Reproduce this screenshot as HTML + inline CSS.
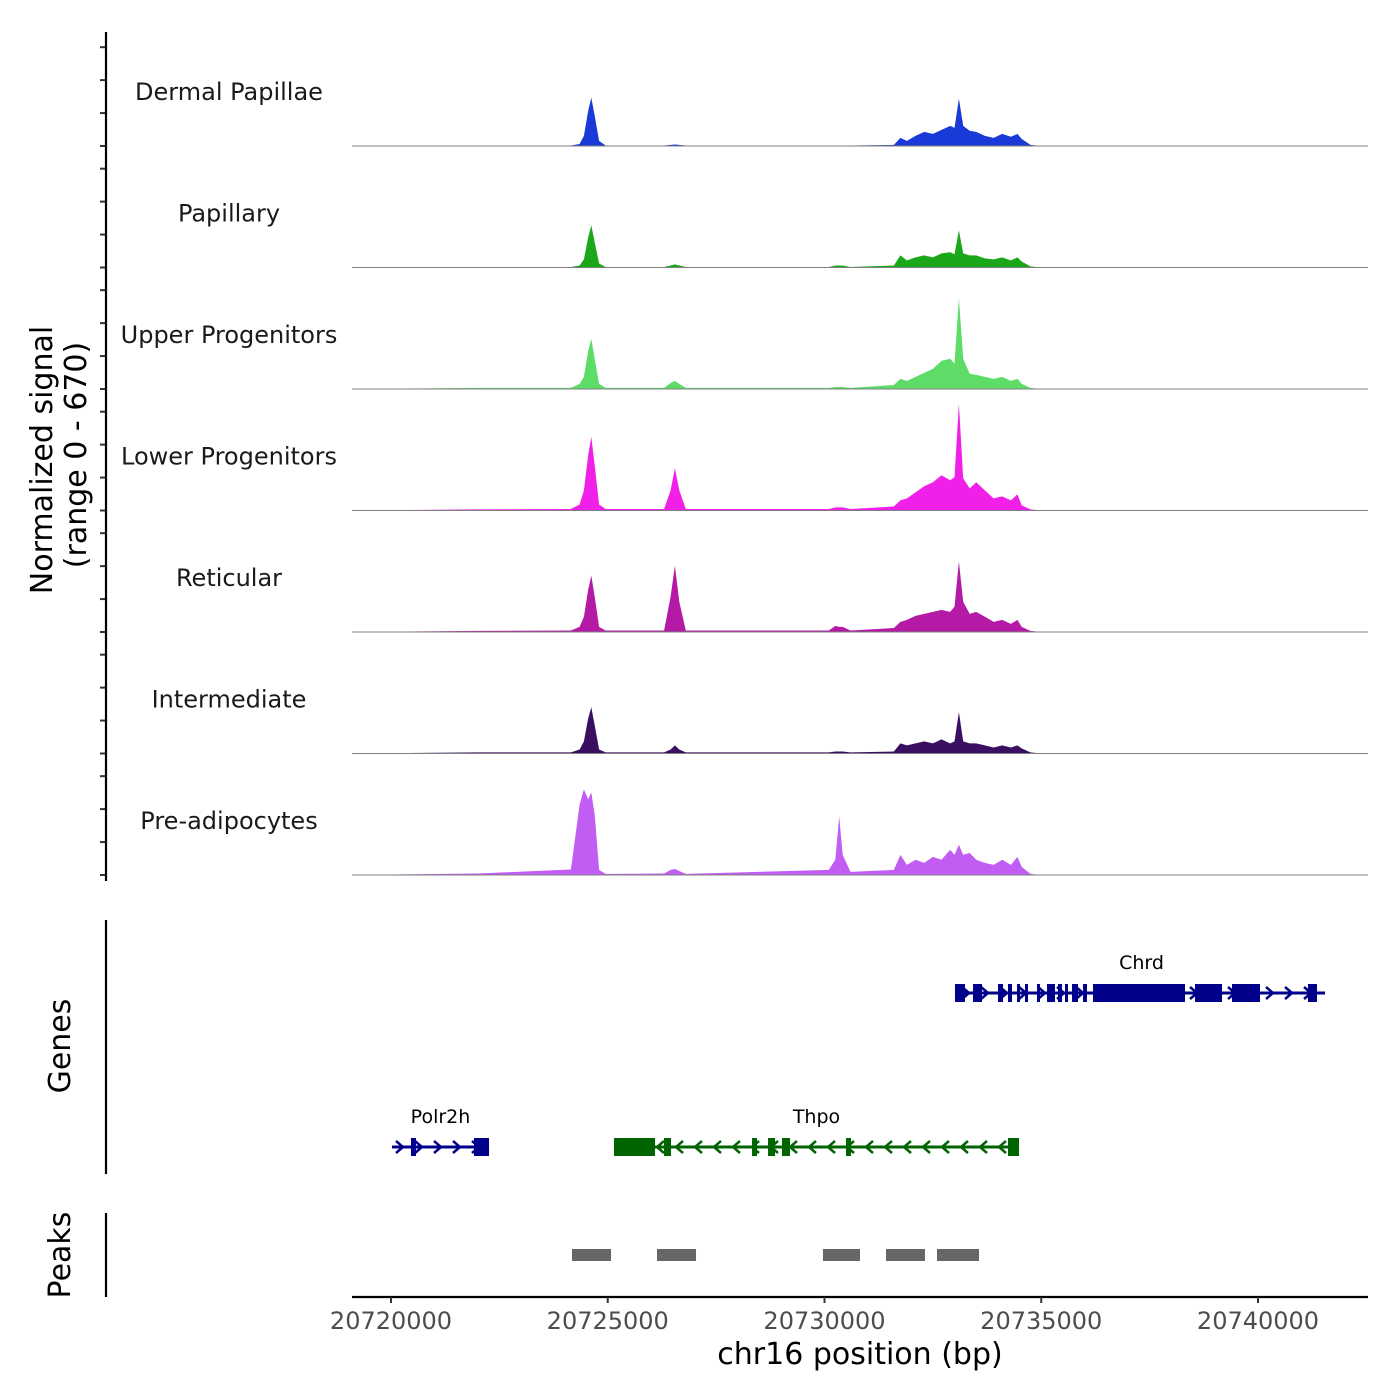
<!DOCTYPE html>
<html><head><meta charset="utf-8"><style>
html,body{margin:0;padding:0;background:#fff;}
svg{display:block;font-family:"DejaVu Sans","Liberation Sans",sans-serif;}
</style></head><body>
<svg id="chart" width="1400" height="1400" viewBox="0 0 1400 1400" xmlns="http://www.w3.org/2000/svg">
<rect width="1400" height="1400" fill="#fff"/>
<g id="tracks"></g>
<g id="genes"></g>
<g id="peaks"></g>
<g id="axes"></g>
<text transform="translate(52,460) rotate(-90)" text-anchor="middle" font-size="30" fill="#000">Normalized signal</text>
<text transform="translate(86,455) rotate(-90)" text-anchor="middle" font-size="30" fill="#000">(range 0 - 670)</text>
<text transform="translate(70,1046) rotate(-90)" text-anchor="middle" font-size="30" fill="#000">Genes</text>
<text transform="translate(70,1255) rotate(-90)" text-anchor="middle" font-size="30" fill="#000">Peaks</text>
<text x="860" y="1364" text-anchor="middle" font-size="30" fill="#000">chr16 position (bp)</text>
</svg>
<script>
const positions = [20719100,20722000,20724150,20724350,20724450,20724550,20724620,20724700,20724800,20724950,20726300,20726450,20726550,20726650,20726800,20730100,20730250,20730340,20730420,20730600,20731600,20731750,20731900,20732100,20732300,20732500,20732700,20732900,20733000,20733100,20733200,20733350,20733500,20733700,20733900,20734100,20734300,20734450,20734550,20734750,20735000,20742500];
const trackNames = ["Dermal Papillae","Papillary","Upper Progenitors","Lower Progenitors","Reticular","Intermediate","Pre-adipocytes"];
const trackColors = ["#1a3ad8","#1aa81a","#5ddc68","#f020e8","#b41aa6","#3a0f62","#c15df2"];
const dermalPapillae = [0,3,3,11,55,193,264,165,28,3,3,6,8,6,3,3,3,3,3,3,6,44,28,55,77,66,88,110,99,259,110,83,77,55,44,66,50,66,39,6,0,0];
const papillary = [0,3,3,11,44,165,231,138,22,3,3,11,17,11,3,3,11,11,11,3,11,66,39,55,66,55,77,83,72,204,77,66,66,50,44,55,39,55,33,6,0,0];
const upperProgenitors = [0,6,6,28,66,209,275,165,28,6,6,33,44,28,6,6,11,11,11,6,22,55,44,66,88,110,154,165,138,495,165,83,77,66,55,66,44,55,28,6,0,0];
const lowerProgenitors = [0,6,8,33,110,303,402,248,33,8,8,110,231,110,8,8,17,17,17,8,22,55,66,99,132,154,193,165,182,583,176,121,154,110,66,77,55,88,28,6,0,0];
const reticular = [0,6,8,28,83,231,308,193,28,8,8,193,363,165,8,8,33,28,28,8,22,55,66,88,99,110,121,110,138,385,165,99,110,83,55,66,44,66,28,6,0,0];
const intermediate = [0,6,6,22,66,193,253,154,22,6,6,22,44,22,6,6,11,11,11,6,11,55,44,55,66,55,77,55,66,226,66,55,55,44,33,44,33,44,28,6,0,0];
const preAdipocytes = [0,8,30,385,468,413,451,330,28,6,8,28,33,22,6,28,83,319,110,17,28,110,55,83,66,99,83,138,110,165,110,121,83,66,55,83,55,99,44,6,0,0];
const trackValues = [dermalPapillae,papillary,upperProgenitors,lowerProgenitors,reticular,intermediate,preAdipocytes];
const yTicks = [0,180,360,540];
const xTicks = [20720000,20725000,20730000,20735000,20740000];
const chrdExons = [[20733010,20733241],[20733426,20733633],[20734002,20734118],[20734233,20734325],[20734441,20734510],[20734625,20734694],[20734902,20734971],[20735133,20735317],[20735386,20735479],[20735548,20735617],[20735710,20735848],[20735963,20736055],[20736194,20738316],[20738547,20739170],[20739400,20740046],[20741153,20741361]];
const polr2hExons = [[20720461,20720577],[20721915,20722261]];
const thpoExons = [[20725144,20726090],[20726298,20726459],[20728328,20728443],[20728697,20728858],[20729019,20729204],[20730496,20730611],[20734233,20734487]];
const genes = [
 {name:"Chrd", start:20733080, end:20741546, strand:1, row:0, color:"#00008b", exons:chrdExons},
 {name:"Polr2h", start:20720023, end:20722261, strand:1, row:1, color:"#00008b", exons:polr2hExons},
 {name:"Thpo", start:20725144, end:20734487, strand:-1, row:1, color:"#006400", exons:thpoExons}
];
const peakStarts = [20724175,20726136,20729965,20731419,20732595];
const peakEnds = [20725075,20727036,20730819,20732318,20733564];

const NS="http://www.w3.org/2000/svg";
const X0=352, X1=1368;
function xs(bp){return 391+(bp-20720000)*0.04335;}
function mk(tag,attrs,parent){const e=document.createElementNS(NS,tag);for(const k in attrs)e.setAttribute(k,attrs[k]);parent.appendChild(e);return e;}
const baseFirst=146, trackStep=121.5, unitPx=0.183;
function ys(v,b){return b - v*unitPx;}

const tg=document.getElementById('tracks');
const ax=document.getElementById('axes');
trackValues.forEach((vals,i)=>{
  const b=baseFirst+i*trackStep;
  let d=`M${xs(positions[0])},${b}`;
  vals.forEach((v,j)=>{d+=` L${xs(positions[j]).toFixed(1)},${ys(v,b).toFixed(1)}`;});
  d+=` L${xs(positions[positions.length-1]).toFixed(1)},${b} Z`;
  const p=mk('path',{d:d,fill:trackColors[i]},tg);
  
  
  const bl=mk('line',{x1:X0,x2:X1,y1:b,y2:b,stroke:'#7f7f7f','stroke-width':1},tg);
  
  
  const t=mk('text',{x:229,y:b-46,'text-anchor':'middle','font-size':24,fill:'#1a1a1a'},tg);
  t.textContent=trackNames[i];
  
  
  yTicks.forEach(tv=>{
    const ty=ys(tv,b);
    const tk=mk('line',{x1:100,x2:106,y1:ty,y2:ty,stroke:'#333','stroke-width':2},ax);
    
    
  });
});
[[32,881],[920,1174],[1213,1297]].forEach(r=>{
  const l=mk('line',{x1:106,x2:106,y1:r[0],y2:r[1],stroke:'#000','stroke-width':2.2},ax);
  
  
});
const xl=mk('line',{x1:X0,x2:X1,y1:1297,y2:1297,stroke:'#000','stroke-width':2.2},ax);


xTicks.forEach(v=>{
  const x=xs(v);
  const tk=mk('line',{x1:x,x2:x,y1:1297,y2:1303,stroke:'#333','stroke-width':2},ax);
  
  
  const tl=mk('text',{x:x,y:1329,'text-anchor':'middle','font-size':24,fill:'#4d4d4d'},ax);
  tl.textContent=String(v);
  
  
});

const gg=document.getElementById('genes');
const rowY=[993,1147];
genes.forEach(g=>{
  const y=rowY[g.row];
  const grp=mk('g',{},gg);
  
  
  const x1=xs(g.start), x2=xs(g.end);
  mk('line',{x1:x1,x2:x2,y1:y,y2:y,stroke:g.color,'stroke-width':3},grp);
  for(let x=x1+8;x<x2;x+=19){
    const s=g.strand;
    mk('polyline',{points:`${x-4*s},${y-6} ${x+3*s},${y} ${x-4*s},${y+6}`,fill:'none',stroke:g.color,'stroke-width':2.5},grp);
  }
  g.exons.forEach(e=>{
    const a=xs(e[0]), bb=xs(e[1]);
    mk('rect',{x:a,y:y-9,width:Math.max(bb-a,3),height:18,fill:g.color},grp);
  });
  const lab=mk('text',{x:(x1+x2)/2,y:y-24,'text-anchor':'middle','font-size':19,fill:'#000'},grp);
  lab.textContent=g.name;
  
  
});

const pg=document.getElementById('peaks');
peakStarts.forEach((s,i)=>{
  const a=xs(s), b=xs(peakEnds[i]);
  const r=mk('rect',{x:a,y:1249,width:b-a,height:12,fill:'#666666'},pg);
  
  
});
</script>
</body></html>
